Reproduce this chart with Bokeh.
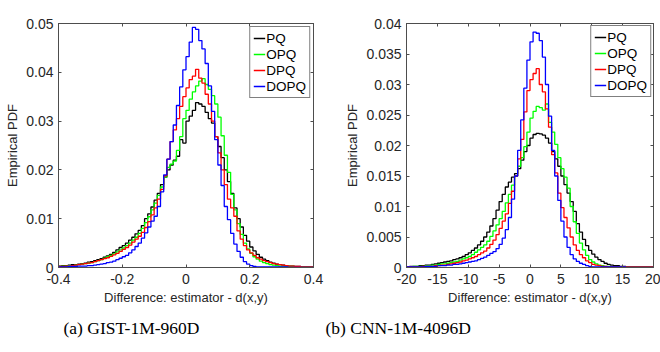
import numpy as np
from bokeh.plotting import figure
from bokeh.models import Range1d, FixedTicker, LinearAxis, Legend, LegendItem, Title
from bokeh.layouts import row
from bokeh.embed import file_html
from bokeh.resources import INLINE

series_names = ["PQ", "OPQ", "DPQ", "DOPQ"]
series_colors = ["#000000", "#00ff00", "#ff0000", "#0000ff"]

# ---------------- (a) GIST-1M-960D : 80 bins of width 0.01 on [-0.4, 0.4]
gist_edges = np.round(np.linspace(-0.4, 0.4, 81), 4)
gist_pq = [0.0003, 0.0004, 0.0004, 0.0005, 0.0006, 0.0006, 0.0007, 0.0008, 0.0009, 0.0011,
           0.0012, 0.0014, 0.0016, 0.0018, 0.0021, 0.0024, 0.0027, 0.0031, 0.0036, 0.0041,
           0.0045, 0.0050, 0.0056, 0.0062, 0.0069, 0.0076, 0.0086, 0.0100, 0.0110, 0.0124,
           0.0138, 0.0152, 0.0170, 0.0185, 0.0200, 0.0210, 0.0220, 0.0228, 0.0262, 0.0255,
           0.0300, 0.0310, 0.0322, 0.0338, 0.0335, 0.0330, 0.0318, 0.0305, 0.0296, 0.0268,
           0.0248, 0.0225, 0.0200, 0.0176, 0.0152, 0.0122, 0.0100, 0.0083, 0.0066, 0.0054,
           0.0042, 0.0034, 0.0027, 0.0021, 0.0017, 0.0014, 0.0011, 0.0009, 0.0007, 0.0006,
           0.0005, 0.0004, 0.0003, 0.0003, 0.0002, 0.0002, 0.0001, 0.0001, 0.0001, 0.0001]
gist_opq = [0.0002, 0.0003, 0.0003, 0.0004, 0.0004, 0.0005, 0.0006, 0.0007, 0.0008, 0.0009,
            0.0010, 0.0012, 0.0014, 0.0016, 0.0019, 0.0022, 0.0025, 0.0028, 0.0032, 0.0036,
            0.0040, 0.0045, 0.0050, 0.0056, 0.0062, 0.0070, 0.0080, 0.0092, 0.0104, 0.0118,
            0.0132, 0.0148, 0.0165, 0.0185, 0.0205, 0.0212, 0.0218, 0.0240, 0.0268, 0.0305,
            0.0322, 0.0345, 0.0360, 0.0372, 0.0382, 0.0387, 0.0375, 0.0365, 0.0352, 0.0335,
            0.0308, 0.0270, 0.0230, 0.0195, 0.0150, 0.0118, 0.0090, 0.0068, 0.0050, 0.0038,
            0.0029, 0.0022, 0.0017, 0.0013, 0.0010, 0.0008, 0.0006, 0.0005, 0.0004, 0.0003,
            0.0003, 0.0002, 0.0002, 0.0002, 0.0001, 0.0001, 0.0001, 0.0001, 0.0001, 0.0001]
gist_dpq = [0.0002, 0.0002, 0.0003, 0.0003, 0.0004, 0.0005, 0.0006, 0.0007, 0.0008, 0.0009,
            0.0010, 0.0012, 0.0014, 0.0016, 0.0018, 0.0020, 0.0023, 0.0026, 0.0029, 0.0033,
            0.0037, 0.0041, 0.0046, 0.0052, 0.0058, 0.0064, 0.0072, 0.0082, 0.0094, 0.0108,
            0.0122, 0.0140, 0.0160, 0.0188, 0.0222, 0.0258, 0.0282, 0.0305, 0.0330, 0.0350,
            0.0368, 0.0385, 0.0392, 0.0406, 0.0388, 0.0378, 0.0355, 0.0335, 0.0300, 0.0268,
            0.0235, 0.0200, 0.0170, 0.0140, 0.0122, 0.0105, 0.0075, 0.0058, 0.0045, 0.0036,
            0.0030, 0.0025, 0.0020, 0.0017, 0.0014, 0.0012, 0.0010, 0.0008, 0.0007, 0.0006,
            0.0005, 0.0004, 0.0003, 0.0003, 0.0002, 0.0002, 0.0001, 0.0001, 0.0001, 0.0001]
gist_dopq = [0.0001, 0.0001, 0.0001, 0.0002, 0.0002, 0.0002, 0.0003, 0.0003, 0.0003, 0.0004,
             0.0004, 0.0005, 0.0006, 0.0007, 0.0008, 0.0010, 0.0011, 0.0013, 0.0016, 0.0019,
             0.0022, 0.0025, 0.0030, 0.0036, 0.0043, 0.0050, 0.0060, 0.0071, 0.0083, 0.0095,
             0.0105, 0.0125, 0.0155, 0.0190, 0.0222, 0.0258, 0.0292, 0.0332, 0.0370, 0.0405,
             0.0432, 0.0462, 0.0492, 0.0488, 0.0465, 0.0448, 0.0418, 0.0372, 0.0320, 0.0262,
             0.0210, 0.0168, 0.0125, 0.0098, 0.0070, 0.0048, 0.0033, 0.0021, 0.0012, 0.0007,
             0.0004, 0.0002, 0.0001, 0.0001, 0.0001, 0.0001, 0.0001, 0.0001, 0.0001, 0.0001,
             0.0001, 0.0001, 0.0000, 0.0000, 0.0000, 0.0000, 0.0000, 0.0000, 0.0000, 0.0000]
gist_xticks = [-0.4, -0.2, 0, 0.2, 0.4]
gist_xlabels = ["-0.4", "-0.2", "0", "0.2", "0.4"]
gist_yticks = [0, 0.01, 0.02, 0.03, 0.04, 0.05]
gist_ylabels = ["0", "0.01", "0.02", "0.03", "0.04", "0.05"]

# ---------------- (b) CNN-1M-4096D : 80 bins of width 0.5 on [-20, 20]
cnn_edges = np.round(np.linspace(-20, 20, 81), 4)
cnn_pq = [0.0001, 0.0002, 0.0002, 0.0002, 0.0003, 0.0003, 0.0004, 0.0004, 0.0005, 0.0006,
          0.0007, 0.0008, 0.0009, 0.0010, 0.0011, 0.0013, 0.0014, 0.0016, 0.0018, 0.0021,
          0.0024, 0.0028, 0.0032, 0.0037, 0.0043, 0.0050, 0.0058, 0.0068, 0.0080, 0.0094,
          0.0108, 0.0120, 0.0132, 0.0140, 0.0148, 0.0154, 0.0162, 0.0176, 0.0190, 0.0200,
          0.0212, 0.0218, 0.0220, 0.0219, 0.0217, 0.0212, 0.0204, 0.0190, 0.0178, 0.0166,
          0.0150, 0.0136, 0.0122, 0.0108, 0.0092, 0.0072, 0.0058, 0.0046, 0.0036, 0.0028,
          0.0022, 0.0017, 0.0013, 0.0010, 0.0007, 0.0005, 0.0004, 0.0003, 0.0003, 0.0002,
          0.0002, 0.0001, 0.0001, 0.0001, 0.0001, 0.0001, 0.0001, 0.0001, 0.0001, 0.0001]
cnn_opq = [0.0001, 0.0001, 0.0002, 0.0002, 0.0002, 0.0002, 0.0003, 0.0003, 0.0004, 0.0004,
           0.0005, 0.0006, 0.0006, 0.0007, 0.0008, 0.0009, 0.0010, 0.0012, 0.0014, 0.0016,
           0.0018, 0.0021, 0.0025, 0.0029, 0.0033, 0.0037, 0.0043, 0.0051, 0.0060, 0.0070,
           0.0080, 0.0092, 0.0106, 0.0120, 0.0135, 0.0150, 0.0166, 0.0180, 0.0198, 0.0222,
           0.0245, 0.0256, 0.0264, 0.0262, 0.0258, 0.0268, 0.0238, 0.0222, 0.0202, 0.0180,
           0.0162, 0.0148, 0.0130, 0.0100, 0.0075, 0.0056, 0.0040, 0.0029, 0.0020, 0.0013,
           0.0009, 0.0006, 0.0004, 0.0003, 0.0002, 0.0002, 0.0001, 0.0001, 0.0001, 0.0001,
           0.0001, 0.0001, 0.0001, 0.0001, 0.0001, 0.0001, 0.0001, 0.0001, 0.0001, 0.0001]
cnn_dpq = [0.0001, 0.0001, 0.0001, 0.0001, 0.0001, 0.0002, 0.0002, 0.0002, 0.0002, 0.0003,
           0.0003, 0.0004, 0.0004, 0.0005, 0.0006, 0.0007, 0.0008, 0.0009, 0.0011, 0.0012,
           0.0014, 0.0016, 0.0018, 0.0021, 0.0024, 0.0027, 0.0032, 0.0038, 0.0045, 0.0054,
           0.0064, 0.0076, 0.0088, 0.0105, 0.0125, 0.0150, 0.0178, 0.0210, 0.0255, 0.0290,
           0.0308, 0.0318, 0.0326, 0.0300, 0.0288, 0.0260, 0.0230, 0.0185, 0.0155, 0.0122,
           0.0098, 0.0082, 0.0065, 0.0050, 0.0037, 0.0028, 0.0021, 0.0016, 0.0011, 0.0008,
           0.0005, 0.0004, 0.0003, 0.0002, 0.0002, 0.0001, 0.0001, 0.0001, 0.0001, 0.0001,
           0.0001, 0.0001, 0.0001, 0.0001, 0.0001, 0.0001, 0.0001, 0.0001, 0.0001, 0.0001]
cnn_dopq = [0.0001, 0.0001, 0.0001, 0.0001, 0.0001, 0.0001, 0.0002, 0.0002, 0.0002, 0.0002,
            0.0003, 0.0003, 0.0003, 0.0004, 0.0004, 0.0005, 0.0005, 0.0006, 0.0007, 0.0008,
            0.0009, 0.0010, 0.0011, 0.0013, 0.0015, 0.0017, 0.0020, 0.0023, 0.0026, 0.0031,
            0.0038, 0.0048, 0.0062, 0.0082, 0.0112, 0.0150, 0.0192, 0.0242, 0.0294, 0.0340,
            0.0370, 0.0386, 0.0384, 0.0372, 0.0345, 0.0300, 0.0248, 0.0192, 0.0150, 0.0110,
            0.0076, 0.0050, 0.0033, 0.0021, 0.0014, 0.0010, 0.0007, 0.0005, 0.0003, 0.0002,
            0.0001, 0.0001, 0.0001, 0.0001, 0.0001, 0.0001, 0.0001, 0.0001, 0.0001, 0.0001,
            0.0001, 0.0000, 0.0000, 0.0000, 0.0000, 0.0000, 0.0000, 0.0000, 0.0000, 0.0000]
cnn_xticks = [-20, -15, -10, -5, 0, 5, 10, 15, 20]
cnn_xlabels = ["-20", "-15", "-10", "-5", "0", "5", "10", "15", "20"]
cnn_yticks = [0, 0.005, 0.01, 0.015, 0.02, 0.025, 0.03, 0.035, 0.04]
cnn_ylabels = ["0", "0.005", "0.01", "0.015", "0.02", "0.025", "0.03", "0.035", "0.04"]

x_title = "Difference: estimator - d(x,y)"
y_title = "Empirical PDF"

AXIS_COLOR = "#4d4d4d"
TEXT_COLOR = "#262626"
SANS = "Liberation Sans"
LINE_W = 1.3


def make_panel(width, borders, xr, yr, xticks, xlabels, yticks, ylabels,
               edges, series, caption, cap_offset, leg_margin):
    bl, br, bt, bb = borders
    p = figure(width=width, height=352, x_range=Range1d(*xr), y_range=Range1d(*yr),
               output_backend="svg", toolbar_location=None,
               min_border_left=bl, min_border_right=br,
               min_border_top=bt, min_border_bottom=bb)
    p.grid.visible = False
    p.outline_line_color = AXIS_COLOR
    p.background_fill_color = "white"
    p.border_fill_color = "white"

    for ax, ticks, labels, lab in ((p.xaxis[0], xticks, xlabels, x_title),
                                   (p.yaxis[0], yticks, ylabels, y_title)):
        ax.ticker = FixedTicker(ticks=ticks)
        ax.major_label_overrides = {t: l for t, l in zip(ticks, labels)}
        ax.axis_label = lab
        ax.axis_label_text_font = SANS
        ax.axis_label_text_font_size = "13px"
        ax.axis_label_text_font_style = "normal"
        ax.axis_label_text_color = TEXT_COLOR
        ax.major_label_text_font = SANS
        ax.major_label_text_font_size = "14px"
        ax.major_label_text_color = TEXT_COLOR
        ax.major_tick_in = 3
        ax.major_tick_out = 0
        ax.minor_tick_line_color = None
        ax.axis_line_color = AXIS_COLOR
        ax.major_tick_line_color = AXIS_COLOR
    p.xaxis[0].major_label_standoff = 6
    p.xaxis[0].axis_label_standoff = 3
    p.yaxis[0].major_label_standoff = 5
    p.yaxis[0].axis_label_standoff = 3

    # mirrored inward ticks on the top and right edges (no labels)
    for side, ticks in (("above", xticks), ("right", yticks)):
        ax = LinearAxis(ticker=FixedTicker(ticks=ticks),
                        major_label_overrides={t: "" for t in ticks},
                        major_label_text_color=None, major_label_standoff=0,
                        major_tick_in=3, major_tick_out=0,
                        minor_tick_line_color=None,
                        axis_line_color=AXIS_COLOR, major_tick_line_color=AXIS_COLOR)
        p.add_layout(ax, side)

    items = []
    for name, color, vals in zip(series_names, series_colors, series):
        yv = list(vals) + [vals[-1]]
        r = p.step(x=list(edges), y=yv, mode="after", line_color=color, line_width=LINE_W)
        items.append(LegendItem(label=name, renderers=[r]))

    leg = Legend(items=items, location="top_right")
    leg.margin = leg_margin
    leg.padding = 3
    leg.spacing = 0
    leg.label_text_font = SANS
    leg.label_text_font_size = "13.5px"
    leg.label_text_color = "black"
    leg.label_height = 16
    leg.glyph_height = 16
    leg.glyph_width = 12
    leg.label_standoff = 1
    leg.border_line_color = "black"
    leg.border_line_width = 1
    leg.background_fill_color = "white"
    leg.background_fill_alpha = 1
    p.add_layout(leg)

    cap = Title(text=caption, align="left", offset=cap_offset, standoff=16,
                text_font="Liberation Serif", text_font_size="17.5px",
                text_font_style="normal", text_color="black")
    p.add_layout(cap, "below")
    return p


p1 = make_panel(325, (58, 12, 12, 85), (-0.4, 0.4), (0, 0.05),
                gist_xticks, gist_xlabels, gist_yticks, gist_ylabels,
                gist_edges, [gist_pq, gist_opq, gist_dpq, gist_dopq],
                "(a) GIST-1M-960D", 5, 3)
p2 = make_panel(335, (81, 7, 23, 84), (-20, 20), (0, 0.04),
                cnn_xticks, cnn_xlabels, cnn_yticks, cnn_ylabels,
                cnn_edges, [cnn_pq, cnn_opq, cnn_dpq, cnn_dopq],
                "(b) CNN-1M-4096D", -81, 2)

layout = row(p1, p2)
open("out.html", "w").write(file_html(layout, INLINE))
